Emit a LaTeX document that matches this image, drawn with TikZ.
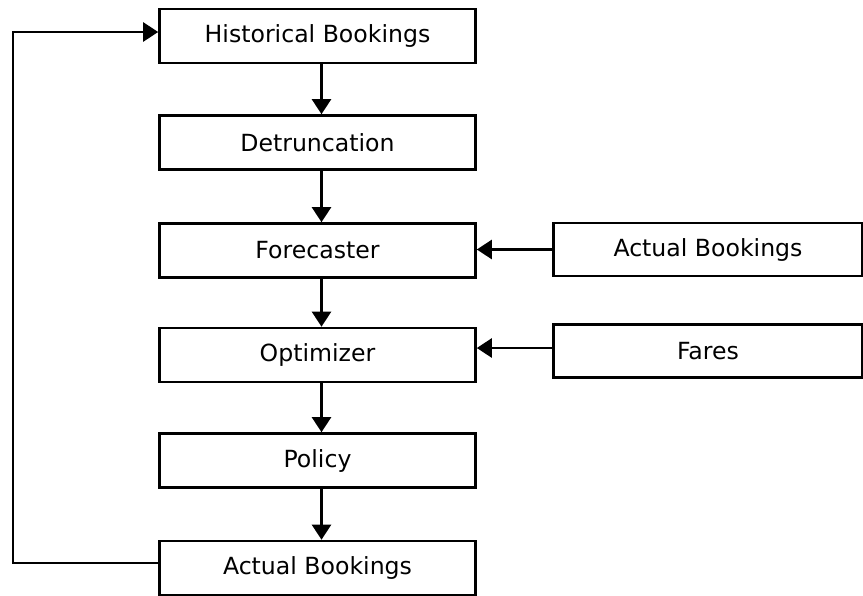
\documentclass[tikz,border=0pt]{standalone}
\usepackage{fontspec}
\setmainfont{DejaVu Sans}
\usetikzlibrary{arrows.meta}
\begin{document}
\begin{tikzpicture}[x=1pt,y=-1pt,
  box/.style={draw=black,line width=2.6pt,minimum width=316pt,minimum height=54pt,inner sep=0pt,font=\fontsize{23.6pt}{27pt}\selectfont},
  rbox/.style={box,minimum width=309pt,minimum height=53pt},
  arr/.style={line width=2.4pt,-{Triangle[length=15pt,width=19pt]}},
  ln/.style={line width=2.4pt}]
\useasboundingbox (0,0) rectangle (863,595);
\node[box] (hist) at (317.5,36) {Historical Bookings};
\node[box] (detr) at (317.5,142.5) {Detruncation};
\node[box] (fore) at (317.5,250.5) {Forecaster};
\node[box] (opt) at (317.5,355) {Optimizer};
\node[box] (pol) at (317.5,460.5) {Policy};
\node[box] (act) at (317.5,568) {Actual Bookings};
\node[rbox] (ract) at (708,249.5) {Actual Bookings};
\node[rbox] (fares) at (708,351) {Fares};
\draw[arr] ([xshift=4pt]hist.south) -- ([xshift=4pt]detr.north);
\draw[arr] ([xshift=4pt]detr.south) -- ([xshift=4pt]fore.north);
\draw[arr] ([xshift=4pt]fore.south) -- ([xshift=4pt]opt.north);
\draw[arr] ([xshift=4pt]opt.south) -- ([xshift=4pt]pol.north);
\draw[arr] ([xshift=4pt]pol.south) -- ([xshift=4pt]act.north);
\draw[arr] (ract.west) -- (ract.west -| fore.east);
\draw[arr] ([yshift=3pt]fares.west) -- ([yshift=3pt]fares.west -| opt.east);
\coordinate (bl) at (13,563);
\coordinate (tl) at (13,32);
\draw[arr] (act.west |- bl) -- (bl) -- (tl) -- (hist.west |- tl);
\end{tikzpicture}
\end{document}
